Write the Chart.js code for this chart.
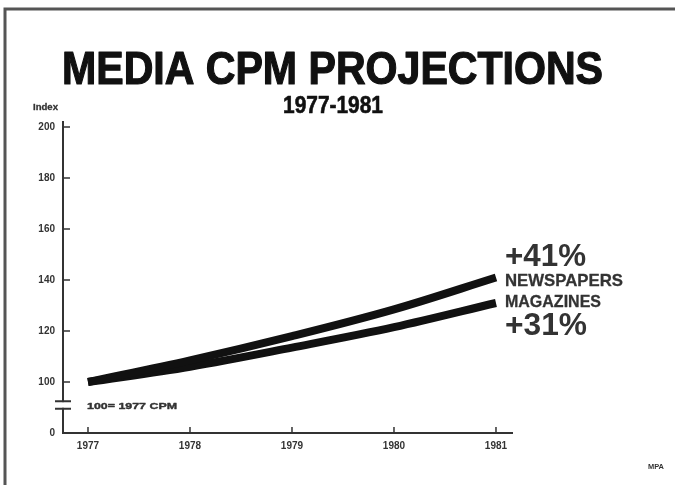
<!DOCTYPE html>
<html>
<head>
<meta charset="utf-8">
<script src="https://cdn.jsdelivr.net/npm/chart.js@4"></script>
<style>
  html, body { margin: 0; padding: 0; background: #fff; }
  #wrap { width: 675px; height: 485px; position: relative; }
</style>
</head>
<body>
<div id="wrap"><canvas id="chart"></canvas></div>
<script>
// values
const years = [1977, 1978, 1979, 1980, 1981];
const newspapers = [100, 108.5, 118, 128.5, 141];
const magazines = [100, 106, 113.5, 121.5, 131];
// bottom tick stands in for 0 (axis is broken below 100)
const yTicks = [80, 100, 120, 140, 160, 180, 200];
const yTickLabels = ["0", "100", "120", "140", "160", "180", "200"];

const ink = "#111";
const grey = "#333";

function fitText(ctx, text, x, y, font, width, align, bold) {
    ctx.font = font;
    const w = ctx.measureText(text).width;
    ctx.save();
    ctx.translate(x, y);
    ctx.scale(width / w, 1);
    ctx.textAlign = align || "left";
    ctx.textBaseline = "alphabetic";
    ctx.fillText(text, 0, 0);
    if (bold) {
        // heavier face, like the phototype on the slide
        ctx.strokeStyle = ctx.fillStyle;
        ctx.lineWidth = bold;
        ctx.lineJoin = "round";
        ctx.strokeText(text, 0, 0);
    }
    ctx.restore();
}

const slidePlugin = {
    id: "slide",
    afterDraw(chart) {
        const ctx = chart.ctx;
        const xs = chart.scales.x;
        const ys = chart.scales.y;
        ctx.save();

        // frame of the slide (top + left edge)
        ctx.strokeStyle = "#555";
        ctx.lineWidth = 3;
        ctx.beginPath();
        ctx.moveTo(675, 9);
        ctx.lineTo(5, 9);
        ctx.lineTo(5, 485);
        ctx.stroke();

        // inward tick marks
        ctx.strokeStyle = grey;
        ctx.lineWidth = 1.5;
        ctx.beginPath();
        yTicks.forEach((v) => {
            if (v === 80) return;
            const py = ys.getPixelForValue(v);
            ctx.moveTo(xs.left, py);
            ctx.lineTo(xs.left + 7, py);
        });
        years.forEach((v) => {
            const px = xs.getPixelForValue(v);
            ctx.moveTo(px, ys.bottom);
            ctx.lineTo(px, ys.bottom - 6);
        });
        ctx.stroke();

        // axis break
        const b1 = ys.getPixelForValue(92.5);
        const b2 = ys.getPixelForValue(89.5);
        ctx.fillStyle = "#fff";
        ctx.fillRect(xs.left - 3, b1 + 1, 6, b2 - b1 - 2);
        ctx.lineWidth = 2;
        ctx.beginPath();
        ctx.moveTo(xs.left - 8, b1);
        ctx.lineTo(xs.left + 8, b1);
        ctx.moveTo(xs.left - 8, b2);
        ctx.lineTo(xs.left + 8, b2);
        ctx.stroke();

        // titles
        ctx.fillStyle = ink;
        fitText(ctx, "MEDIA CPM PROJECTIONS", 332.5, 84, "bold 46px 'Liberation Sans', Arial, sans-serif", 541, "center", 1.2);
        fitText(ctx, "1977-1981", 333, 113, "bold 23px 'Liberation Sans', Arial, sans-serif", 100, "center", 0.6);

        ctx.fillStyle = grey;
        fitText(ctx, "Index", 33, 110, "bold 9px 'Liberation Sans', Arial, sans-serif", 25, "left", 0.3);
        const x0 = xs.getPixelForValue(years[0]);
        fitText(ctx, "100= 1977 CPM", x0 - 1, ys.getPixelForValue(100) + 27, "bold 9.5px 'Liberation Sans', Arial, sans-serif", 90, "left", 0.4);

        // end labels
        const ex = xs.getPixelForValue(years[years.length - 1]) + 9;
        const ny = ys.getPixelForValue(newspapers[newspapers.length - 1]);
        const my = ys.getPixelForValue(magazines[magazines.length - 1]);
        fitText(ctx, "+41%", ex, ny - 12, "bold 32px 'Liberation Sans', Arial, sans-serif", 81);
        fitText(ctx, "NEWSPAPERS", ex, ny + 8, "bold 17px 'Liberation Sans', Arial, sans-serif", 118, "left", 0.3);
        fitText(ctx, "MAGAZINES", ex, my + 4, "bold 17px 'Liberation Sans', Arial, sans-serif", 96, "left", 0.3);
        fitText(ctx, "+31%", ex, my + 32, "bold 32px 'Liberation Sans', Arial, sans-serif", 82);

        fitText(ctx, "MPA", 648, 469, "bold 7px 'Liberation Sans', Arial, sans-serif", 16);
        ctx.restore();
    },
};

const tickFont = { family: "'Liberation Sans', Arial, sans-serif", size: 10, weight: "bold" };

new Chart(document.getElementById("chart"), {
    type: "line",
    data: {
        datasets: [
            {
                label: "Newspapers",
                data: years.map((y, i) => ({ x: y, y: newspapers[i] })),
            },
            {
                label: "Magazines",
                data: years.map((y, i) => ({ x: y, y: magazines[i] })),
            },
        ],
    },
    plugins: [slidePlugin],
    options: {
        responsive: true,
        maintainAspectRatio: false,
        animation: false,
        layout: { padding: { top: 122, right: 163, left: 0, bottom: 0 } },
        elements: {
            point: { radius: 0 },
            line: {
                borderColor: ink,
                borderWidth: 8,
                tension: 0.35,
                borderCapStyle: "butt",
                fill: false,
            },
        },
        plugins: {
            legend: { display: false },
            tooltip: { enabled: false },
        },
        scales: {
            x: {
                type: "linear",
                min: 1976.755,
                max: 1981.157,
                afterFit: (s) => { s.height = 52; },
                afterBuildTicks: (s) => { s.ticks = years.map((v) => ({ value: v })); },
                grid: { display: false, drawTicks: false },
                border: { display: true, color: grey, width: 2 },
                ticks: {
                    color: grey,
                    font: tickFont,
                    padding: 7,
                    maxRotation: 0,
                    callback: (v) => String(v),
                },
            },
            y: {
                type: "linear",
                min: 80,
                max: 202,
                afterFit: (s) => { s.width = 63; },
                afterBuildTicks: (s) => { s.ticks = yTicks.map((v) => ({ value: v })); },
                grid: { display: false, drawTicks: false },
                border: { display: true, color: grey, width: 2 },
                ticks: {
                    color: grey,
                    font: tickFont,
                    padding: 8,
                    callback: (v) => yTickLabels[yTicks.indexOf(v)],
                },
            },
        },
    },
});
</script>
</body>
</html>
